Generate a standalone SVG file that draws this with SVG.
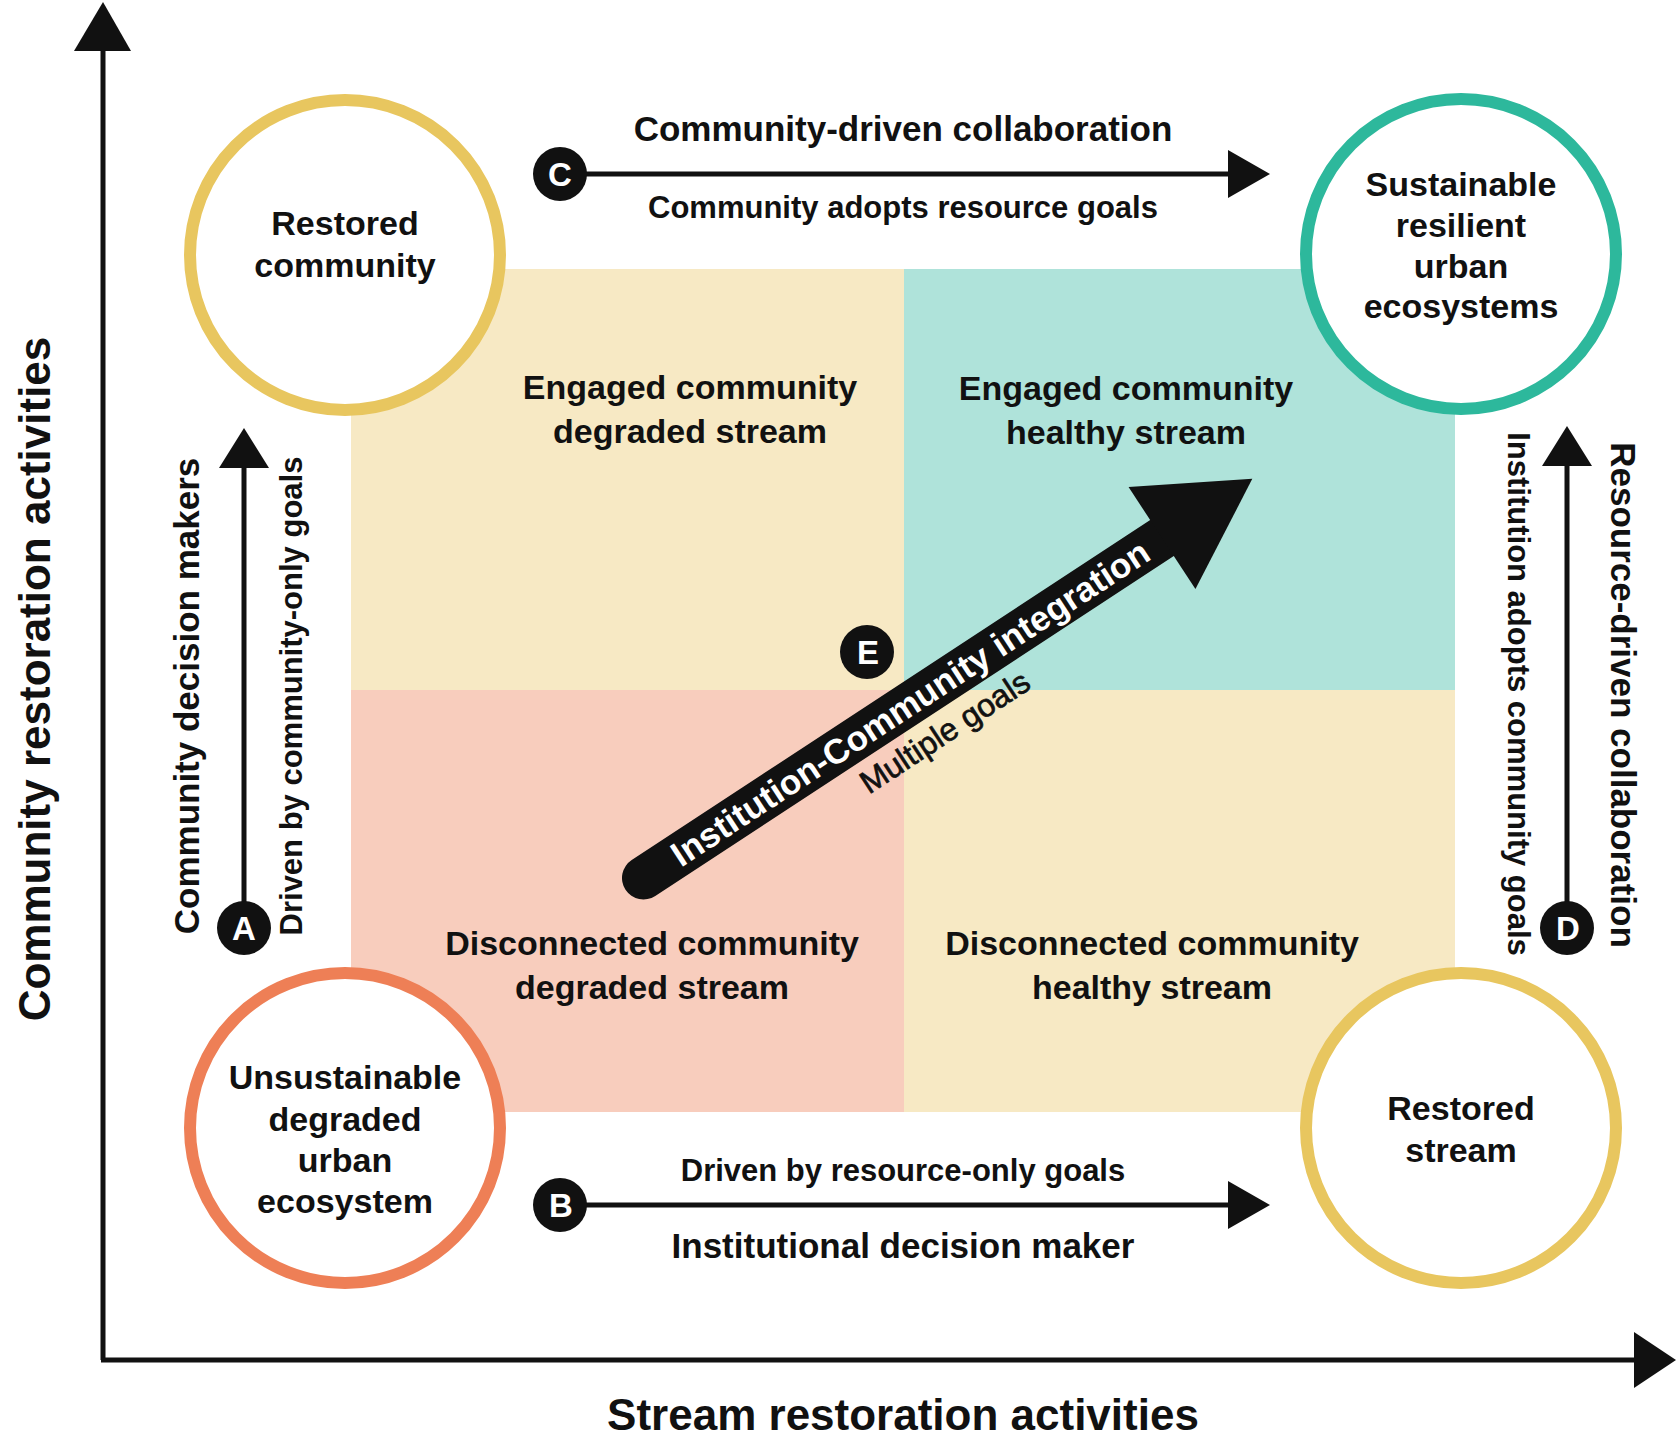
<svg xmlns="http://www.w3.org/2000/svg" width="1677" height="1440" viewBox="0 0 1677 1440">
<defs>
<style>
text{font-family:"Liberation Sans",Arial,Helvetica,sans-serif;fill:#111;font-weight:bold;text-anchor:middle}
.ring{fill:#fff;stroke-width:12}
.yel{stroke:#E8C65F}
.teal{stroke:#2DB89C}
.org{stroke:#EE7F56}
.lbl{font-size:35px}
.sub{font-size:31px}
.node{font-size:34px}
.quad{font-size:34px}
.axis{font-size:44px}
.ln{stroke:#111;stroke-width:5;fill:none}
.head{fill:#111}
.badge{fill:#111}
.bt{fill:#fff;font-size:33px}
</style>
</defs>
<rect width="1677" height="1440" fill="#fff"/>

<g id="quadrants">
<rect id="q-engaged-degraded" x="351" y="269" width="553" height="421" fill="#F7E9C4"/>
<rect id="q-engaged-healthy" x="904" y="269" width="551" height="421" fill="#AFE3DA"/>
<rect id="q-disconnected-degraded" x="351" y="690" width="553" height="422" fill="#F8CDBD"/>
<rect id="q-disconnected-healthy" x="904" y="690" width="551" height="422" fill="#F7E9C4"/>
</g>

<g id="quadrant-labels">
<text class="quad" x="690" y="399">Engaged community</text>
<text class="quad" x="690" y="443">degraded stream</text>
<text class="quad" x="1126" y="400">Engaged community</text>
<text class="quad" x="1126" y="444">healthy stream</text>
<text class="quad" x="652" y="955">Disconnected community</text>
<text class="quad" x="652" y="999">degraded stream</text>
<text class="quad" x="1152" y="955">Disconnected community</text>
<text class="quad" x="1152" y="999">healthy stream</text>
</g>

<g id="connectors">
<line class="ln" x1="103" y1="48" x2="103" y2="1360"/>
<polygon class="head" points="74,51 103,2 131,51"/>
<line class="ln" x1="101" y1="1360" x2="1637" y2="1360"/>
<polygon class="head" points="1634,1332 1676,1360 1634,1388"/>
<line class="ln" x1="560" y1="174" x2="1230" y2="174"/>
<polygon class="head" points="1228,150 1270,174 1228,198"/>
<line class="ln" x1="560" y1="1205" x2="1230" y2="1205"/>
<polygon class="head" points="1228,1181 1270,1205 1228,1229"/>
<line class="ln" x1="244" y1="928" x2="244" y2="466"/>
<polygon class="head" points="219,468 244,428 269,468"/>
<line class="ln" x1="1567" y1="928" x2="1567" y2="464"/>
<polygon class="head" points="1542,466 1567,426 1592,466"/>
<g id="arrow-e" transform="translate(643.5,878) rotate(-33.25)">
<line x1="0" y1="0" x2="625" y2="0" stroke="#111" stroke-width="43" stroke-linecap="round"/>
<polygon class="head" points="620,-61 728,0 620,61"/>
<text x="319" y="12" style="fill:#fff;font-size:35px">Institution-Community integration</text>
<text x="332" y="54" style="font-size:32px;font-weight:normal;stroke:#111;stroke-width:0.7">Multiple goals</text>
</g>
</g>

<g id="connector-labels">
<text class="lbl" x="903" y="141">Community-driven collaboration</text>
<text class="sub" x="903" y="218">Community adopts resource goals</text>
<text class="sub" x="903" y="1181">Driven by resource-only goals</text>
<text class="lbl" x="903" y="1258">Institutional decision maker</text>
<text class="lbl" transform="translate(199,696) rotate(-90)">Community decision makers</text>
<text class="sub" transform="translate(302,696) rotate(-90)">Driven by community-only goals</text>
<text class="sub" transform="translate(1508,694) rotate(90)">Institution adopts community goals</text>
<text class="lbl" transform="translate(1611,695) rotate(90)">Resource-driven collaboration</text>
</g>

<g id="axis-labels">
<text class="axis" x="903" y="1430">Stream restoration activities</text>
<text class="axis" transform="translate(50,679) rotate(-90)">Community restoration activities</text>
</g>

<g id="node-restored-community">
<circle class="ring yel" cx="345" cy="255" r="155"/>
<text class="node" x="345" y="235">Restored</text>
<text class="node" x="345" y="277">community</text>
</g>

<g id="node-sustainable">
<circle class="ring teal" cx="1461" cy="254" r="155"/>
<text class="node" x="1461" y="196">Sustainable</text>
<text class="node" x="1461" y="237">resilient</text>
<text class="node" x="1461" y="278">urban</text>
<text class="node" x="1461" y="318">ecosystems</text>
</g>

<g id="node-unsustainable">
<circle class="ring org" cx="345" cy="1128" r="155"/>
<text class="node" x="345" y="1089">Unsustainable</text>
<text class="node" x="345" y="1131">degraded</text>
<text class="node" x="345" y="1172">urban</text>
<text class="node" x="345" y="1213">ecosystem</text>
</g>

<g id="node-restored-stream">
<circle class="ring yel" cx="1461" cy="1128" r="155"/>
<text class="node" x="1461" y="1120">Restored</text>
<text class="node" x="1461" y="1162">stream</text>
</g>

<g id="badges">
<g id="badge-a"><circle class="badge" cx="244" cy="928" r="27"/><text class="bt" x="244" y="940">A</text></g>
<g id="badge-b"><circle class="badge" cx="560" cy="1205" r="27"/><text class="bt" x="561" y="1217">B</text></g>
<g id="badge-c"><circle class="badge" cx="560" cy="174" r="27"/><text class="bt" x="560" y="186">C</text></g>
<g id="badge-d"><circle class="badge" cx="1567" cy="928" r="27"/><text class="bt" x="1568" y="940">D</text></g>
<g id="badge-e"><circle class="badge" cx="867" cy="652" r="27"/><text class="bt" x="868" y="664">E</text></g>
</g>
</svg>
